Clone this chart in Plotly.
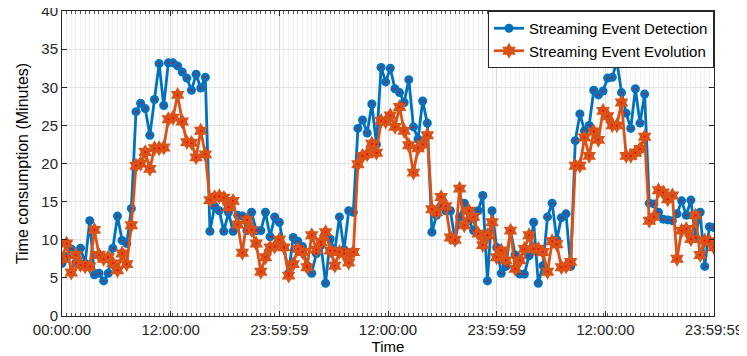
import plotly.graph_objects as go

# time consumption (minutes), one value per time slot
detection = [6.9, 7.8, 8.8, 7.0, 8.9, 6.9, 12.5, 5.4, 5.6, 4.6, 5.6, 8.9, 13.1, 9.9, 9.5, 14.1,
             26.8, 27.9, 27.2, 23.7, 28.4, 33.1, 27.6, 33.2, 33.2, 32.8, 32.0, 31.2, 29.6, 31.7, 29.9, 31.3,
             11.1, 14.4, 13.8, 11.1, 13.6, 11.1, 13.2, 13.1, 11.2, 13.6, 11.2, 11.2, 13.6, 10.4, 13.0, 12.3,
             9.0, 5.6, 10.3, 9.8, 9.1, 6.6, 5.6, 8.2, 9.3, 4.3, 10.1, 8.6, 13.0, 8.7, 13.8, 13.6,
             24.6, 25.7, 24.0, 27.8, 22.5, 32.6, 30.7, 32.5, 29.8, 29.3, 28.0, 31.0, 24.8, 23.2, 28.2, 25.3,
             11.0, 13.2, 14.5, 13.8, 13.8, 9.9, 13.0, 14.8, 12.5, 11.2, 13.8, 15.8, 4.6, 13.8, 9.0, 5.6,
             6.5, 11.2, 8.0, 5.5, 5.5, 7.9, 12.3, 4.3, 6.6, 13.0, 14.8, 10.0, 12.9, 13.4, 6.5,
             23.0, 26.5, 24.3, 25.0, 29.6, 29.0, 29.5, 31.2, 31.3, 33.4, 29.3, 26.6, 24.6, 29.8, 25.3, 29.1,
             14.8, 14.7, 13.6, 12.7, 12.6, 12.5, 13.4, 15.1, 13.2, 15.2, 10.3, 13.6, 6.5, 11.7, 11.6]

evolution = [7.5, 9.5, 5.7, 8.0, 6.7, 6.5, 6.5, 11.3, 8.0, 7.5, 7.7, 6.9, 6.0, 8.2, 6.8, 11.9,
             19.7, 20.0, 21.5, 19.3, 22.0, 22.0, 22.1, 25.8, 26.0, 29.0, 25.5, 22.8, 22.7, 20.8, 24.3, 21.2,
             15.2, 15.6, 15.7, 15.5, 14.3, 15.1, 12.0, 8.3, 12.6, 11.3, 9.5, 5.8, 7.7, 9.0, 9.1, 10.0,
             9.0, 5.3, 6.8, 8.8, 8.4, 6.4, 10.6, 8.7, 9.7, 11.0, 8.6, 6.6, 8.4, 8.2, 7.0, 8.4,
             19.9, 21.0, 21.2, 22.6, 21.4, 25.6, 25.5, 26.3, 24.8, 27.4, 24.3, 22.4, 18.8, 22.0, 22.5, 23.7,
             14.0, 13.6, 15.6, 14.4, 10.3, 10.0, 16.7, 11.9, 13.8, 13.0, 10.8, 9.3, 10.6, 12.3, 7.7, 8.6,
             7.3, 11.2, 6.2, 7.3, 8.8, 10.6, 8.8, 8.8, 8.4, 5.8, 9.8, 9.4, 6.4, 6.5, 7.1,
             19.7, 19.7, 23.4, 21.0, 24.2, 23.1, 26.9, 26.2, 25.0, 25.0, 28.0, 21.0, 21.0, 21.4, 21.9, 23.5,
             12.5, 13.0, 16.5, 16.2, 15.3, 15.8, 7.5, 11.2, 11.4, 10.1, 13.2, 8.0, 9.9, 9.8, 9.0]

tick_labels = ["00:00:00", "12:00:00", "23:59:59", "12:00:00", "23:59:59", "12:00:00", "23:59:59"]

slots = list(range(len(detection)))
last = slots[-1]
tick_pos = [last * k / (len(tick_labels) - 1) for k in range(len(tick_labels))]

blue = '#0072BD'
orange = '#D95319'
axis_col = '#262626'

fig = go.Figure()
fig.add_trace(go.Scatter(
    x=slots, y=detection, name='Streaming Event Detection',
    mode='lines+markers',
    line=dict(color=blue, width=2.8),
    marker=dict(symbol='circle', size=9, color=blue),
))
fig.add_trace(go.Scatter(
    x=slots, y=evolution, name='Streaming Event Evolution',
    mode='lines+markers',
    line=dict(color=orange, width=2.8),
    marker=dict(symbol='hexagram', size=12, color=orange),
))
# tiny red dots in the middle of the markers
for ys in (detection, evolution):
  fig.add_trace(go.Scatter(
      x=slots, y=ys, mode='markers', showlegend=False, hoverinfo='skip',
      marker=dict(symbol='circle', size=2, color='red'),
  ))

# the page puts the figure 8px in from the top-left corner, so size it to fit the window
fig.update_layout(
    width=739, height=348,
    margin=dict(l=54, r=33, t=3, b=40),
    plot_bgcolor='white', paper_bgcolor='white',
    font=dict(family='Liberation Sans, Arial, sans-serif', size=15, color=axis_col),
    legend=dict(x=1, y=1, xanchor='right', yanchor='top',
                bgcolor='white', bordercolor='#262626', borderwidth=1,
                font=dict(size=15, color='black'), tracegroupgap=0,
                itemwidth=30),
    showlegend=True,
)
fig.update_xaxes(
    range=[0, last], automargin=False, ticklabeloverflow='allow',
    tickmode='array', tickvals=tick_pos, ticktext=tick_labels,
    ticks='inside', ticklen=5, tickcolor=axis_col,
    showline=True, linecolor=axis_col, linewidth=1, mirror='allticks',
    showgrid=True, gridcolor='#dcdcdc', gridwidth=1,
    zeroline=False,
    minor=dict(tickmode='linear', tick0=0, dtick=1, ticks='inside', ticklen=3,
               tickcolor='#555555', showgrid=True, gridcolor='#efefef', gridwidth=1),
    title=dict(text='Time', standoff=2, font=dict(size=15, color='black')),
)
fig.update_yaxes(
    range=[0, 40], dtick=5, automargin=False, ticklabeloverflow='allow',
    ticks='inside', ticklen=5, tickcolor=axis_col,
    showline=True, linecolor=axis_col, linewidth=1, mirror='allticks',
    showgrid=True, gridcolor='#e3e3e3', gridwidth=1,
    zeroline=False,
    title=dict(text='Time consumption (Minutes)', standoff=8, font=dict(size=16, color='black')),
)

fig.write_html("out.html")
